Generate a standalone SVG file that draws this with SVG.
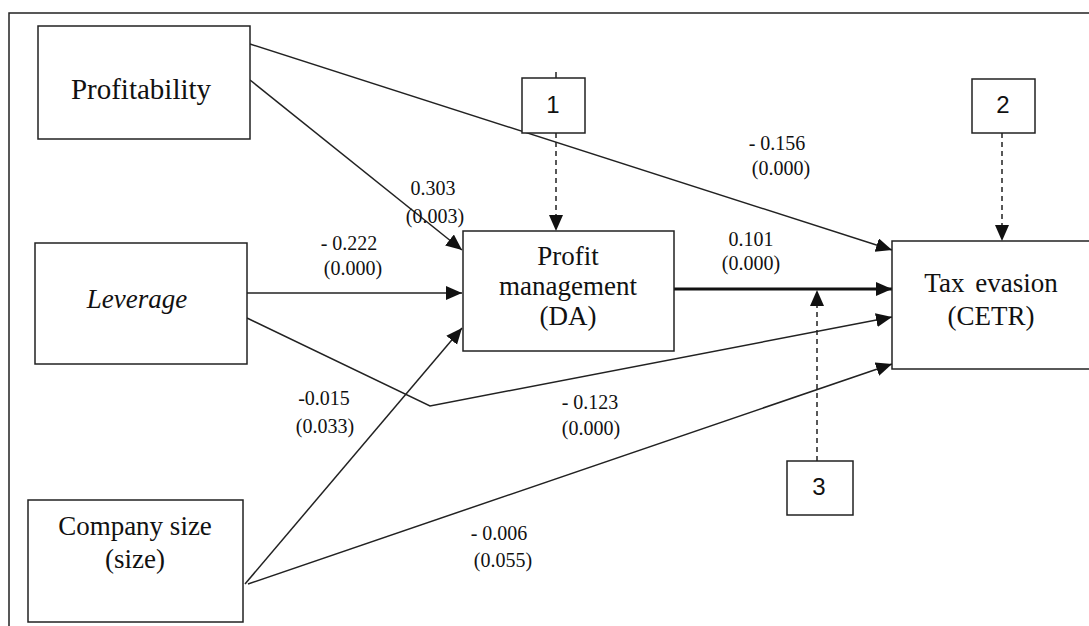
<svg xmlns="http://www.w3.org/2000/svg" width="1089" height="626" viewBox="0 0 1089 626">
<style>
.box{fill:#fff;stroke:#222;stroke-width:1.5}
.ln{fill:none;stroke:#222;stroke-width:1.5}
.thick{fill:none;stroke:#111;stroke-width:3}
.dash{fill:none;stroke:#222;stroke-width:1.5;stroke-dasharray:5 4}
.t{font-family:"Liberation Serif","Times New Roman",serif;fill:#111;text-anchor:middle}
.n{font-size:27px}
.lab{font-size:20px}
.num{font-family:"Liberation Sans",Arial,sans-serif;font-size:24px;fill:#111;text-anchor:middle}
</style>
<defs>
<marker id="ah" markerUnits="userSpaceOnUse" markerWidth="17" markerHeight="15" refX="16" refY="7" orient="auto">
<path d="M0,0 L16,7 L0,14 z" fill="#111"/>
</marker>
</defs>
<rect width="1089" height="626" fill="#fff"/>
<path d="M9,626 L9,13 L1089,13" class="ln"/>

<g id="connectors">
<path d="M250,44 L892,250" class="ln" marker-end="url(#ah)"/>
<path d="M250,80 L462,250" class="ln" marker-end="url(#ah)"/>
<path d="M247,293 L462,293" class="ln" marker-end="url(#ah)"/>
<path d="M247,318 L430,406 L892,317" class="ln" marker-end="url(#ah)"/>
<path d="M245,584 L462,328" class="ln" marker-end="url(#ah)"/>
<path d="M248,584 L892,364" class="ln" marker-end="url(#ah)"/>
<path d="M674,289 L892,289" class="thick" marker-end="url(#ah)"/>
<path d="M556,72 L556,78" class="ln"/>
<path d="M556,133 L556,231" class="dash" marker-end="url(#ah)"/>
<path d="M1002,133 L1002,241" class="dash" marker-end="url(#ah)"/>
<path d="M817,461 L817,290" class="dash" marker-end="url(#ah)"/>
</g>

<g id="labels">
<text class="t lab" x="433" y="195">0.303</text>
<text class="t lab" x="435" y="223">(0.003)</text>
<text class="t lab" x="349" y="250">- 0.222</text>
<text class="t lab" x="353" y="275">(0.000)</text>
<text class="t lab" x="777" y="150">- 0.156</text>
<text class="t lab" x="781" y="175">(0.000)</text>
<text class="t lab" x="751" y="246">0.101</text>
<text class="t lab" x="751" y="270">(0.000)</text>
<text class="t lab" x="324" y="405">-0.015</text>
<text class="t lab" x="325" y="433">(0.033)</text>
<text class="t lab" x="590" y="409">- 0.123</text>
<text class="t lab" x="591" y="435">(0.000)</text>
<text class="t lab" x="499" y="540">- 0.006</text>
<text class="t lab" x="503" y="567">(0.055)</text>
</g>

<g id="profitability">
<rect class="box" x="38" y="26" width="212" height="113"/>
<text class="t" x="141" y="99" font-size="29">Profitability</text>
</g>
<g id="leverage">
<rect class="box" x="35" y="243" width="212" height="121"/>
<text class="t n" x="137" y="308" font-style="italic">Leverage</text>
</g>
<g id="company-size">
<rect class="box" x="28" y="500" width="215" height="122"/>
<text class="t n" x="135" y="535">Company size</text>
<text class="t n" x="135" y="568">(size)</text>
</g>
<g id="profit-management">
<rect class="box" x="463" y="231" width="211" height="120"/>
<text class="t n" x="568" y="265">Profit</text>
<text class="t n" x="568" y="295">management</text>
<text class="t n" x="568" y="325">(DA)</text>
</g>
<g id="tax-evasion">
<rect class="box" x="892" y="241" width="220" height="128"/>
<text class="t n" x="991" y="292" word-spacing="4">Tax evasion</text>
<text class="t n" x="991" y="325">(CETR)</text>
</g>
<g id="box1">
<rect class="box" x="522" y="78" width="63" height="55"/>
<text class="num" x="553" y="113">1</text>
</g>
<g id="box2">
<rect class="box" x="972" y="79" width="63" height="54"/>
<text class="num" x="1003" y="113">2</text>
</g>
<g id="box3">
<rect class="box" x="787" y="461" width="66" height="54"/>
<text class="num" x="819" y="495">3</text>
</g>
</svg>
